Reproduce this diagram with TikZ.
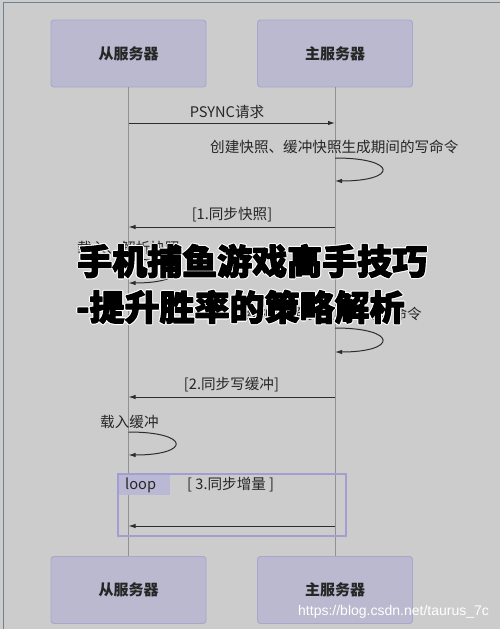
\documentclass[tikz,border=0pt]{standalone}
\usepackage{fontspec}
\setmainfont{Noto Sans CJK SC}
\newfontfamily\wmfont{Liberation Sans}
\usetikzlibrary{arrows.meta}
\definecolor{bgc}{RGB}{204,204,204}
\definecolor{boxfill}{RGB}{186,185,207}
\definecolor{boxline}{RGB}{168,166,202}
\definecolor{lifec}{RGB}{145,145,145}
\definecolor{arrc}{RGB}{45,45,45}
\definecolor{txtc}{RGB}{38,38,38}
\definecolor{framec}{RGB}{162,158,208}
\definecolor{tabfill}{RGB}{186,184,212}
\definecolor{edgec}{RGB}{110,130,150}
% stroked text (outline) and fill+stroke text (heavier)
\newcommand\strokedtext[2]{\special{pdf:literal direct 1 Tr #1 w 1 j}#2\special{pdf:literal direct 0 Tr}}
\newcommand\heavytext[2]{\special{pdf:literal direct 2 Tr #1 w 1 j}#2\special{pdf:literal direct 0 Tr}}
\tikzset{
  actor/.style={draw=boxline, fill=boxfill, line width=0.9pt, rounded corners=3pt,
    minimum width=155pt, minimum height=67pt, inner sep=0pt,
    font=\fontsize{15}{18}\selectfont\bfseries, text=txtc},
  lifeline/.style={draw=lifec, line width=0.8pt},
  msg/.style={draw=arrc, line width=1pt, -{Latex[length=7pt,width=4.5pt]}},
  lbl/.style={inner sep=0pt, font=\fontsize{14.6}{17}\selectfont, text=txtc},
  overlay text/.style={inner sep=0pt, anchor=west, font=\fontsize{35}{40}\selectfont\bfseries},
}
\begin{document}
\begin{tikzpicture}[x=1pt,y=-1pt]
\useasboundingbox (0,0) rectangle (500,629);
\fill[bgc] (0,0) rectangle (500,629);
\draw[edgec, line width=0.8pt] (3,629) -- (3,2.5) -- (500,2.5);

% actors
\node[actor] (sTop) at (128.5,53.5) {从服务器};
\node[actor] (mTop) at (335,53.5) {主服务器};
\node[actor] (sBot) at (128.5,590) {从服务器};
\node[actor] (mBot) at (335,590) {主服务器};

% lifelines
\draw[lifeline] (sTop.south) -- (sBot.north);
\draw[lifeline] (mTop.south) -- (mBot.north);

% message end points
\coordinate (s1) at (128.5,123);
\coordinate (m1) at (335,123);
\coordinate (mL1a) at (335,158);
\coordinate (mL1b) at (335,181);
\coordinate (m2) at (335,227);
\coordinate (s2) at (128.5,227);
\coordinate (sL1a) at (128.5,259);
\coordinate (sL1b) at (128.5,283);
\coordinate (mL2a) at (335,328);
\coordinate (mL2b) at (335,352);
\coordinate (m3) at (335,397);
\coordinate (s3) at (128.5,397);
\coordinate (sL2a) at (128.5,432);
\coordinate (sL2b) at (128.5,455);
\coordinate (m4) at (335,526);
\coordinate (s4) at (128.5,526);

% PSYNC
\node[lbl] (t1) at (227,112) {PSYNC请求};
\draw[msg] (s1) -- (m1);

% create snapshot
\node[lbl, anchor=west] (t2) at (210,147) {创建快照、缓冲快照生成期间的写命令};
\draw[msg] (mL1a) .. controls (398,158) and (398,181) .. (mL1b);

% sync snapshot
\node[lbl] (t3) at (232,215) {[1.同步快照]};
\draw[msg] (m2) -- (s2);

% load snapshot
\node[lbl, anchor=west] (t4) at (77,248) {载入、解析快照};
\draw[msg] (sL1a) .. controls (191,259) and (191,283) .. (sL1b);

% buffer
\node[lbl, anchor=east] (t5) at (422,314) {缓冲快照发送期间的写命令};
\draw[msg] (mL2a) .. controls (398,328) and (398,352) .. (mL2b);

% sync buffer
\node[lbl] (t6) at (231.5,385) {[2.同步写缓冲]};
\draw[msg] (m3) -- (s3);

% load buffer
\node[lbl, anchor=west] (t7) at (100,422) {载入缓冲};
\draw[msg] (sL2a) .. controls (191,432) and (191,455) .. (sL2b);

% loop frame
\fill[tabfill] (118,474) rectangle (170,495);
\draw[framec, line width=1.2pt] (118,474) rectangle (346,536);
\node[lbl, anchor=west] (tloop) at (125,485) {loop};
\node[lbl, anchor=west] (t8) at (187,485) {[ 3.同步增量 ]};
\draw[msg] (m4) -- (s4);

% overlay title: white outline under heavy black text
\node[overlay text, text=white] (ov1w) at (77,261) {\strokedtext{3.4}{手机捕鱼游戏高手技巧}};
\node[overlay text, text=black] (ov1) at (77,261) {\heavytext{1.2}{手机捕鱼游戏高手技巧}};
\node[overlay text, text=white] (ov2w) at (76,307) {\strokedtext{3.4}{-提升胜率的策略解析}};
\node[overlay text, text=black] (ov2) at (76,307) {\heavytext{1.2}{-提升胜率的策略解析}};

% watermark
\node[inner sep=0pt, anchor=west, font=\wmfont\fontsize{14}{16}\selectfont, text=white] (wm) at (298,612) {https://blog.csdn.net/taurus\_7c};
\end{tikzpicture}
\end{document}
